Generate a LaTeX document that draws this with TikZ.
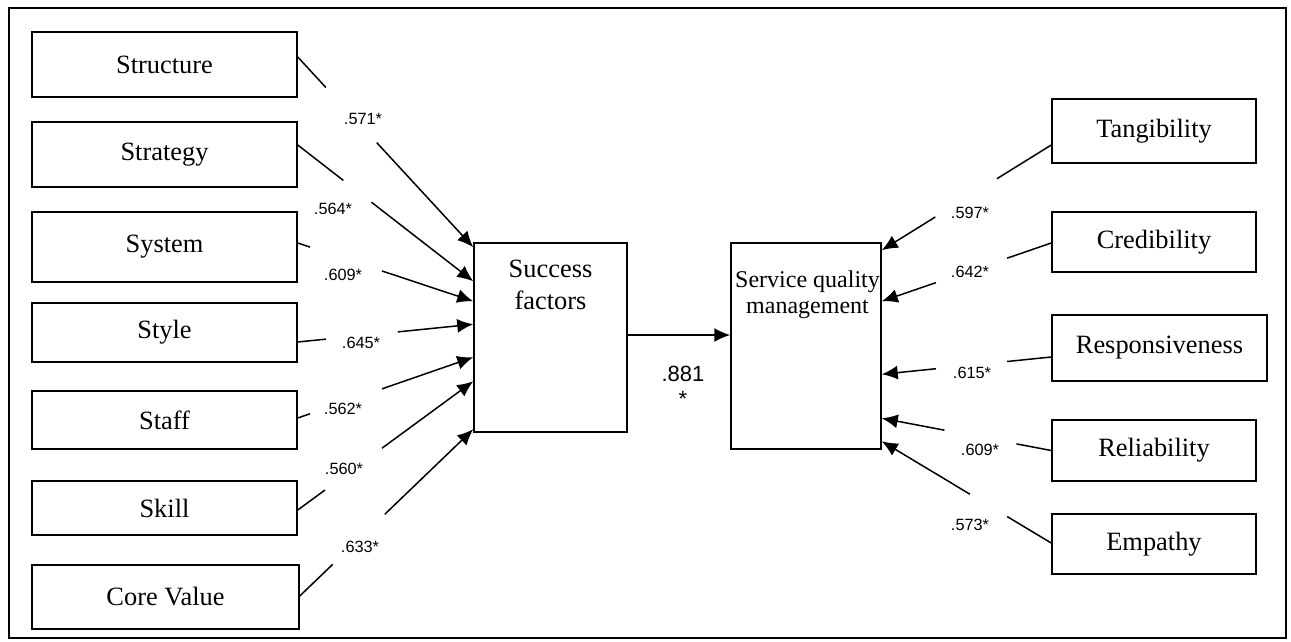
\documentclass[tikz,border=0pt]{standalone}
\usepackage{fontspec}
\setmainfont{Liberation Serif}
\newfontfamily\lblfont{Liberation Sans}
\usetikzlibrary{calc,arrows.meta}
\begin{document}
\begin{tikzpicture}[x=1pt,y=-1pt,
  box/.style={draw, line width=1.5pt, inner sep=0pt, font=\fontsize{26.4}{30}\selectfont},
  lbl/.style={font=\lblfont\fontsize{16.3}{18}\selectfont, inner sep=0pt},
  big/.style={font=\lblfont\fontsize{22}{25}\selectfont, inner sep=0pt, align=center},
  arr/.style={line width=1.5pt, -{Latex[length=16pt,width=14pt]}},
  ln/.style={line width=1.5pt}]
\useasboundingbox (0,0) rectangle (1291,641);
\draw[line width=1.2pt] (9,8) rectangle (1286,638);

% left boxes
\node[box, minimum width=265, minimum height=65] (str) at (164.5,64.5) {Structure};
\node[box, minimum width=265, minimum height=65] (stg) at (164.5,154.5) {Strategy};
\node[box, minimum width=265, minimum height=70] (sys) at (164.5,247) {System};
\node[box, minimum width=265, minimum height=59] (sty) at (164.5,332.5) {Style};
\node[box, minimum width=265, minimum height=58] (stf) at (164.5,420) {Staff};
\node[box, minimum width=265, minimum height=54] (skl) at (164.5,508) {Skill};
\node[box, minimum width=267, minimum height=64] (cv) at (165.5,597) {Core Value};

% central boxes
\node[box, minimum width=153, minimum height=189,
  label={[anchor=north, align=center, font=\fontsize{26.4}{32}\selectfont, yshift=-14pt]north:Success\\factors}] (sf) at (550.5,337.5) {};
\node[box, minimum width=150, minimum height=206,
  label={[anchor=north, align=center, font=\fontsize{24}{26}\selectfont, yshift=-25pt, xshift=1.5pt]north:Service quality\\management}] (sqm) at (806,346) {};

% right boxes
\node[box, minimum width=204, minimum height=64] (tan) at (1154,131) {Tangibility};
\node[box, minimum width=204, minimum height=60] (cre) at (1154,242) {Credibility};
\node[box, minimum width=215, minimum height=66] (res) at (1159.5,348) {Responsiveness};
\node[box, minimum width=204, minimum height=61] (rel) at (1154,450.5) {Reliability};
\node[box, minimum width=204, minimum height=60] (emp) at (1154,544) {Empathy};

% left connectors
\coordinate (a1) at ($(str.east)+(0,-7.5)$); \coordinate (b1) at ($(sf.north west)+(0,5)$);
\coordinate (a2) at ($(stg.east)+(0,-9.5)$); \coordinate (b2) at ($(sf.north west)+(0,39)$);
\coordinate (a3) at ($(sys.east)+(0,-4)$);   \coordinate (b3) at ($(sf.north west)+(0,59)$);
\coordinate (a4) at ($(sty.east)+(0,9.5)$);  \coordinate (b4) at ($(sf.north west)+(0,82)$);
\coordinate (a5) at ($(stf.east)+(0,-2)$);   \coordinate (b5) at ($(sf.north west)+(0,115)$);
\coordinate (a6) at ($(skl.east)+(0,2)$);    \coordinate (b6) at ($(sf.north west)+(0,139)$);
\coordinate (a7) at ($(cv.east)+(0,-1)$);    \coordinate (b7) at ($(sf.north west)+(0,187)$);

\draw[ln] (a1) -- ($(a1)!0.16!(b1)$);  \draw[arr] ($(a1)!0.45!(b1)$) -- (b1);
\draw[ln] (a2) -- ($(a2)!0.26!(b2)$);  \draw[arr] ($(a2)!0.42!(b2)$) -- (b2);
\draw[ln] (a3) -- ($(a3)!0.07!(b3)$);  \draw[arr] ($(a3)!0.48!(b3)$) -- (b3);
\draw[ln] (a4) -- ($(a4)!0.16!(b4)$);  \draw[arr] ($(a4)!0.57!(b4)$) -- (b4);
\draw[ln] (a5) -- ($(a5)!0.07!(b5)$);  \draw[arr] ($(a5)!0.48!(b5)$) -- (b5);
\draw[ln] (a6) -- ($(a6)!0.155!(b6)$); \draw[arr] ($(a6)!0.48!(b6)$) -- (b6);
\draw[ln] (a7) -- ($(a7)!0.19!(b7)$);  \draw[arr] ($(a7)!0.49!(b7)$) -- (b7);

\node[lbl] (l1) at (363,119) {.571*};
\node[lbl] (l2) at (333,209) {.564*};
\node[lbl] (l3) at (343,275) {.609*};
\node[lbl] (l4) at (361,343) {.645*};
\node[lbl] (l5) at (343,409) {.562*};
\node[lbl] (l6) at (344,469) {.560*};
\node[lbl] (l7) at (360,547) {.633*};

% main path
\draw[arr] (sf.east |- 0,335) -- (sqm.west |- 0,335);
\node[big] (l0) at (683,386) {.881\\*};

% right connectors
\coordinate (c1) at ($(tan.west)+(0,14)$); \coordinate (d1) at ($(sqm.north east)+(0,8)$);
\coordinate (c2) at ($(cre.west)+(0,1)$);  \coordinate (d2) at ($(sqm.north east)+(0,59)$);
\coordinate (c3) at ($(res.west)+(0,9)$);  \coordinate (d3) at ($(sqm.north east)+(0,132)$);
\coordinate (c4) at ($(rel.west)+(0,0)$);  \coordinate (d4) at ($(sqm.north east)+(0,176)$);
\coordinate (c5) at ($(emp.west)+(0,-1)$); \coordinate (d5) at ($(sqm.north east)+(0,199)$);

\draw[ln] (c1) -- ($(c1)!0.32!(d1)$);  \draw[arr] ($(c1)!0.684!(d1)$) -- (d1);
\draw[ln] (c2) -- ($(c2)!0.26!(d2)$);  \draw[arr] ($(c2)!0.68!(d2)$) -- (d2);
\draw[ln] (c3) -- ($(c3)!0.26!(d3)$);  \draw[arr] ($(c3)!0.68!(d3)$) -- (d3);
\draw[ln] (c4) -- ($(c4)!0.205!(d4)$); \draw[arr] ($(c4)!0.63!(d4)$) -- (d4);
\draw[ln] (c5) -- ($(c5)!0.26!(d5)$);  \draw[arr] ($(c5)!0.48!(d5)$) -- (d5);

\node[lbl] (r1) at (970,213) {.597*};
\node[lbl] (r2) at (970,272) {.642*};
\node[lbl] (r3) at (972,373) {.615*};
\node[lbl] (r4) at (980,450) {.609*};
\node[lbl] (r5) at (970,525) {.573*};
\end{tikzpicture}
\end{document}
